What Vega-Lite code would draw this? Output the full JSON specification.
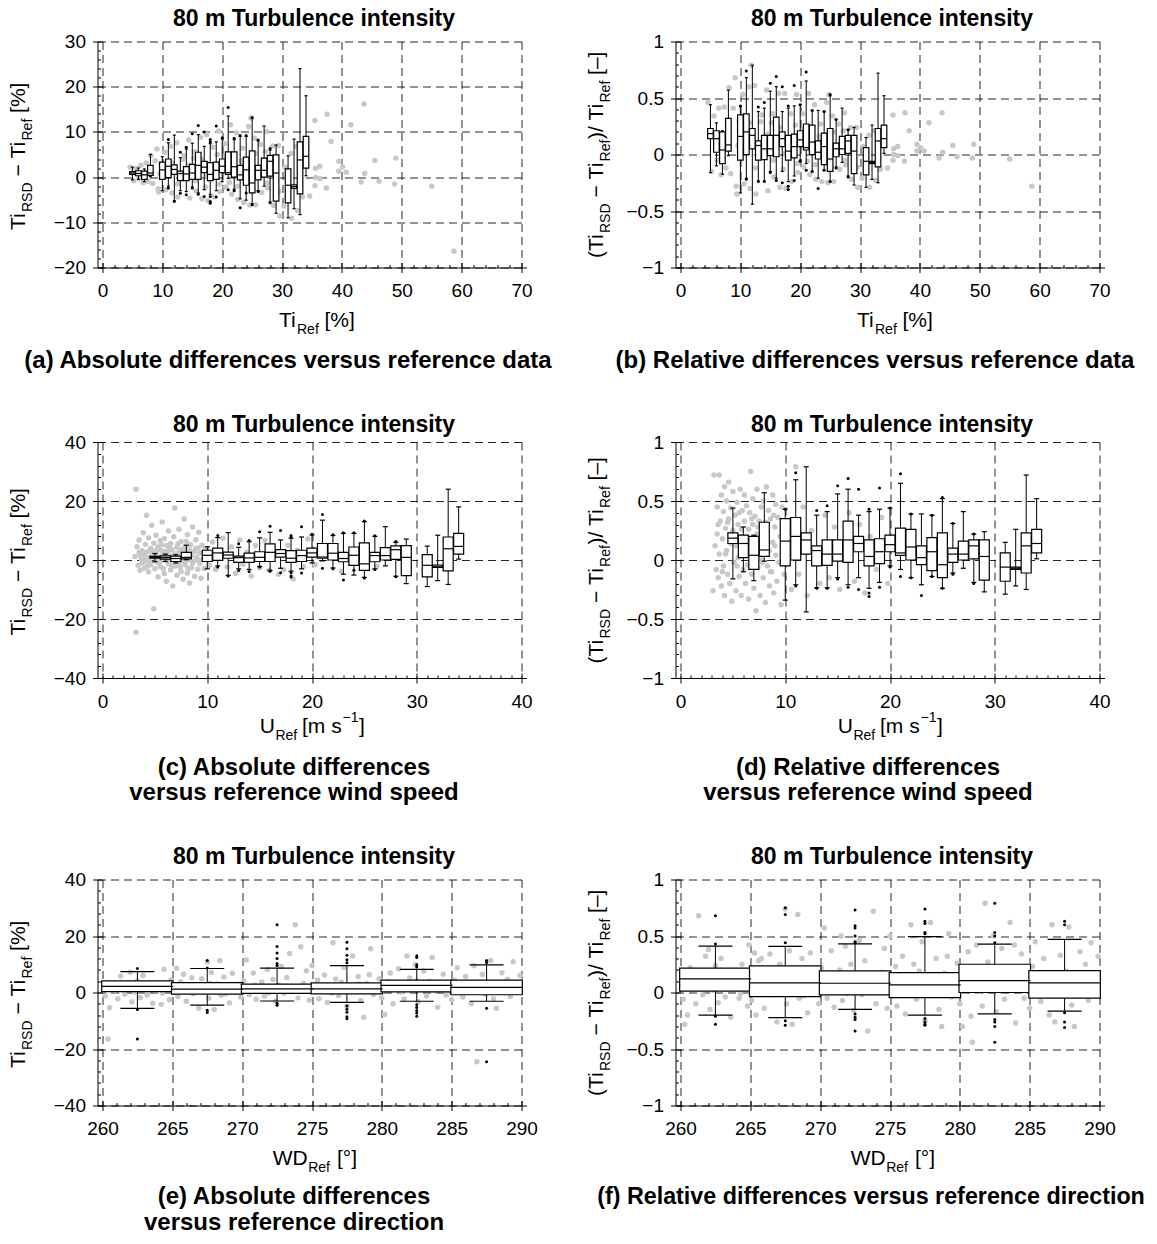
{
  "$schema": "https://vega.github.io/schema/vega-lite/v6.json",
  "background": "white",
  "padding": {"left": 7.5, "top": 7.5, "right": 2, "bottom": 4},
  "columns": 2,
  "align": "each",
  "spacing": {"row": 40.5, "column": 32},
  "datasets": {
    "boxU": [
      {"x":5,"q1":0.6,"q3":1.2,"md":0.9,"lo":-0.6,"hi":2.2},
      {"x":6,"q1":0.3,"q3":1.4,"md":0.8,"lo":-0.5,"hi":2.0},
      {"x":7,"q1":-0.5,"q3":1.3,"md":0.5,"lo":-1.0,"hi":1.8},
      {"x":8,"q1":0.4,"q3":2.6,"md":0.9,"lo":0.1,"hi":5.0},
      {"x":10,"q1":-0.5,"q3":3.3,"md":1.6,"lo":-3.0,"hi":4.5},
      {"x":11,"q1":-0.1,"q3":4.0,"md":2.4,"lo":-2.0,"hi":7.6},
      {"x":12,"q1":0.6,"q3":2.7,"md":1.7,"lo":-5.2,"hi":9.3},
      {"x":13,"q1":-0.8,"q3":1.3,"md":0.8,"lo":-3.0,"hi":4.3},
      {"x":14,"q1":-0.8,"q3":2.3,"md":0.7,"lo":-3.2,"hi":6.2},
      {"x":15,"q1":-0.5,"q3":2.8,"md":0.9,"lo":-2.2,"hi":7.5},
      {"x":16,"q1":-0.5,"q3":5.5,"md":2.6,"lo":-3.5,"hi":9.4},
      {"x":17,"q1":1.0,"q3":3.5,"md":2.2,"lo":-2.8,"hi":6.8},
      {"x":18,"q1":-0.8,"q3":3.2,"md":0.6,"lo":-3.8,"hi":7.4},
      {"x":19,"q1":-0.5,"q3":3.3,"md":1.5,"lo":-3.0,"hi":7.8},
      {"x":20,"q1":1.0,"q3":4.0,"md":2.4,"lo":-1.0,"hi":8.5},
      {"x":21,"q1":0.6,"q3":5.6,"md":1.0,"lo":-0.3,"hi":13.5},
      {"x":22,"q1":0.0,"q3":5.6,"md":2.3,"lo":-2.7,"hi":8.3},
      {"x":23,"q1":-0.6,"q3":2.6,"md":0.5,"lo":-4.8,"hi":9.0},
      {"x":24,"q1":-1.8,"q3":4.4,"md":1.6,"lo":-5.1,"hi":9.0},
      {"x":25,"q1":-3.5,"q3":5.8,"md":-1.3,"lo":-5.9,"hi":13.0},
      {"x":26,"q1":-0.6,"q3":2.6,"md":1.5,"lo":-3.0,"hi":8.0},
      {"x":27,"q1":0.0,"q3":4.2,"md":1.5,"lo":-2.0,"hi":11.3},
      {"x":28,"q1":0.2,"q3":4.8,"md":3.5,"lo":-5.5,"hi":6.0},
      {"x":29,"q1":-5.3,"q3":4.9,"md":0.9,"lo":-8.0,"hi":7.1},
      {"x":31,"q1":-5.7,"q3":1.8,"md":-1.8,"lo":-9.0,"hi":4.7},
      {"x":32,"q1":-2.5,"q3":-1.7,"md":-2.1,"lo":-7.0,"hi":8.4},
      {"x":33,"q1":-3.7,"q3":7.8,"md":3.8,"lo":-8.3,"hi":24.0},
      {"x":34,"q1":2.0,"q3":9.0,"md":4.6,"lo":0.3,"hi":18.0}
    ],
    "boxR": [
      {"x":5,"q1":0.14,"q3":0.23,"md":0.185,"lo":-0.16,"hi":0.44},
      {"x":6,"q1":0.02,"q3":0.21,"md":0.14,"lo":-0.10,"hi":0.28},
      {"x":7,"q1":-0.08,"q3":0.20,"md":0.04,"lo":-0.175,"hi":0.21},
      {"x":8,"q1":0.03,"q3":0.32,"md":0.085,"lo":-0.01,"hi":0.57},
      {"x":10,"q1":-0.05,"q3":0.35,"md":0.16,"lo":-0.34,"hi":0.43},
      {"x":11,"q1":0.0,"q3":0.36,"md":0.2,"lo":-0.21,"hi":0.68},
      {"x":12,"q1":0.05,"q3":0.23,"md":0.17,"lo":-0.44,"hi":0.79},
      {"x":13,"q1":-0.05,"q3":0.12,"md":0.08,"lo":-0.235,"hi":0.38},
      {"x":14,"q1":-0.045,"q3":0.17,"md":0.05,"lo":-0.235,"hi":0.41},
      {"x":15,"q1":-0.01,"q3":0.17,"md":0.05,"lo":-0.15,"hi":0.56},
      {"x":16,"q1":-0.02,"q3":0.33,"md":0.17,"lo":-0.21,"hi":0.6},
      {"x":17,"q1":0.07,"q3":0.2,"md":0.14,"lo":-0.15,"hi":0.38},
      {"x":18,"q1":-0.05,"q3":0.17,"md":0.03,"lo":-0.24,"hi":0.41},
      {"x":19,"q1":-0.03,"q3":0.18,"md":0.07,"lo":-0.19,"hi":0.43},
      {"x":20,"q1":0.07,"q3":0.21,"md":0.13,"lo":-0.05,"hi":0.44},
      {"x":21,"q1":0.04,"q3":0.27,"md":0.06,"lo":-0.08,"hi":0.65},
      {"x":22,"q1":0.0,"q3":0.26,"md":0.11,"lo":-0.15,"hi":0.39},
      {"x":23,"q1":-0.04,"q3":0.12,"md":0.02,"lo":-0.21,"hi":0.39},
      {"x":24,"q1":-0.09,"q3":0.19,"md":0.07,"lo":-0.14,"hi":0.38},
      {"x":25,"q1":-0.15,"q3":0.23,"md":-0.04,"lo":-0.24,"hi":0.52},
      {"x":26,"q1":-0.02,"q3":0.1,"md":0.05,"lo":-0.11,"hi":0.31},
      {"x":27,"q1":0.0,"q3":0.16,"md":0.05,"lo":-0.07,"hi":0.41},
      {"x":28,"q1":0.01,"q3":0.17,"md":0.12,"lo":-0.19,"hi":0.22},
      {"x":29,"q1":-0.17,"q3":0.17,"md":0.03,"lo":-0.27,"hi":0.24},
      {"x":31,"q1":-0.18,"q3":0.06,"md":-0.06,"lo":-0.29,"hi":0.15},
      {"x":32,"q1":-0.08,"q3":-0.06,"md":-0.07,"lo":-0.22,"hi":0.26},
      {"x":33,"q1":-0.11,"q3":0.23,"md":0.12,"lo":-0.25,"hi":0.72},
      {"x":34,"q1":0.06,"q3":0.26,"md":0.14,"lo":0.01,"hi":0.52}
    ],
    "boxWa": [
      {"x":262.5,"q1":0.3,"q3":4.1,"md":2.2,"lo":-5.6,"hi":7.4},
      {"x":267.5,"q1":-0.6,"q3":3.5,"md":1.2,"lo":-4.5,"hi":8.5},
      {"x":272.5,"q1":-0.3,"q3":3.0,"md":1.3,"lo":-3.0,"hi":8.6},
      {"x":277.5,"q1":-0.5,"q3":3.4,"md":1.3,"lo":-3.5,"hi":9.5},
      {"x":282.5,"q1":0.2,"q3":4.4,"md":2.5,"lo":-3.1,"hi":8.2},
      {"x":287.5,"q1":-0.8,"q3":4.4,"md":1.8,"lo":-3.1,"hi":9.8}
    ],
    "boxWr": [
      {"x":262.5,"q1":0.013,"q3":0.215,"md":0.12,"lo":-0.2,"hi":0.41},
      {"x":267.5,"q1":-0.036,"q3":0.236,"md":0.085,"lo":-0.223,"hi":0.408},
      {"x":272.5,"q1":-0.021,"q3":0.191,"md":0.082,"lo":-0.15,"hi":0.43},
      {"x":277.5,"q1":-0.045,"q3":0.176,"md":0.067,"lo":-0.2,"hi":0.494},
      {"x":282.5,"q1":0.0,"q3":0.25,"md":0.105,"lo":-0.19,"hi":0.428},
      {"x":287.5,"q1":-0.05,"q3":0.194,"md":0.085,"lo":-0.165,"hi":0.47}
    ],
    "outU": [
      {"x":11,"y":8.3},{"x":11,"y":-2.4},{"x":12,"y":-5.4},{"x":13,"y":5.5},{"x":13,"y":-3.6},{"x":14,"y":6.6},{"x":14,"y":-3.9},{"x":15,"y":9.6},{"x":15,"y":-2.4},{"x":16,"y":11.4},{"x":16,"y":-3.8},{"x":17,"y":10.0},{"x":17,"y":-4.3},{"x":18,"y":7.8},{"x":18,"y":8.3},{"x":18,"y":-4.3},{"x":18,"y":-5.4},{"x":18,"y":-5.8},{"x":19,"y":11.3},{"x":19,"y":-4.4},{"x":20,"y":8.7},{"x":21,"y":15.4},{"x":21,"y":-2.8},{"x":22,"y":8.6},{"x":22,"y":-3.0},{"x":23,"y":9.2},{"x":23,"y":-6.8},{"x":24,"y":9.2},{"x":24,"y":-3.5},{"x":25,"y":13.2},{"x":25,"y":-6.1},{"x":26,"y":8.2},{"x":26,"y":-3.2},{"x":28,"y":6.3},{"x":28,"y":-5.7}
    ],
    "outR": [
      {"x":10,"y":0.43},{"x":11,"y":0.74},{"x":11,"y":-0.22},{"x":13,"y":0.42},{"x":13,"y":-0.24},{"x":14,"y":0.46},{"x":14,"y":-0.24},{"x":15,"y":0.63},{"x":15,"y":-0.16},{"x":16,"y":0.69},{"x":16,"y":-0.23},{"x":17,"y":0.6},{"x":17,"y":-0.25},{"x":18,"y":0.43},{"x":18,"y":-0.28},{"x":18,"y":-0.31},{"x":19,"y":0.61},{"x":19,"y":-0.23},{"x":20,"y":0.44},{"x":20,"y":-0.06},{"x":21,"y":0.73},{"x":21,"y":-0.14},{"x":22,"y":0.39},{"x":22,"y":-0.15},{"x":23,"y":-0.3},{"x":24,"y":0.38},{"x":24,"y":-0.14},{"x":25,"y":0.53},{"x":25,"y":-0.24},{"x":26,"y":0.31},{"x":26,"y":-0.12},{"x":28,"y":0.22},{"x":28,"y":-0.2}
    ],
    "outWa": [
      {"x":262.5,"y":8.5},{"x":262.5,"y":-6.0},{"x":262.5,"y":-16.5},
      {"x":267.5,"y":8.7},{"x":267.5,"y":11.3},{"x":267.5,"y":-6.3},{"x":267.5,"y":-7.1},
      {"x":272.5,"y":9.6},{"x":272.5,"y":10.3},{"x":272.5,"y":12.0},{"x":272.5,"y":14.0},{"x":272.5,"y":16.3},{"x":272.5,"y":24.0},{"x":272.5,"y":-3.8},{"x":272.5,"y":-4.5},
      {"x":277.5,"y":10.5},{"x":277.5,"y":11.6},{"x":277.5,"y":13.2},{"x":277.5,"y":15.5},{"x":277.5,"y":17.8},{"x":277.5,"y":-4.8},{"x":277.5,"y":-5.9},{"x":277.5,"y":-7.0},{"x":277.5,"y":-8.6},{"x":277.5,"y":-9.3},
      {"x":282.5,"y":9.0},{"x":282.5,"y":9.8},{"x":282.5,"y":12.4},{"x":282.5,"y":13.0},{"x":282.5,"y":-4.3},{"x":282.5,"y":-5.3},{"x":282.5,"y":-6.4},{"x":282.5,"y":-7.3},{"x":282.5,"y":-8.4},
      {"x":287.5,"y":10.6},{"x":287.5,"y":11.3},{"x":287.5,"y":-5.6},{"x":287.5,"y":-24.5}
    ],
    "outWr": [
      {"x":262.5,"y":0.68},{"x":262.5,"y":0.43},{"x":262.5,"y":-0.21},{"x":262.5,"y":-0.28},
      {"x":267.5,"y":0.75},{"x":267.5,"y":0.69},{"x":267.5,"y":0.44},{"x":267.5,"y":-0.25},{"x":267.5,"y":-0.29},
      {"x":272.5,"y":0.73},{"x":272.5,"y":0.59},{"x":272.5,"y":0.57},{"x":272.5,"y":0.5},{"x":272.5,"y":0.45},{"x":272.5,"y":0.44},{"x":272.5,"y":-0.19},{"x":272.5,"y":-0.22},{"x":272.5,"y":-0.24},{"x":272.5,"y":-0.34},
      {"x":277.5,"y":0.74},{"x":277.5,"y":0.63},{"x":277.5,"y":0.61},{"x":277.5,"y":0.53},{"x":277.5,"y":0.52},{"x":277.5,"y":-0.23},{"x":277.5,"y":-0.26},{"x":277.5,"y":-0.28},{"x":277.5,"y":-0.29},
      {"x":282.5,"y":0.79},{"x":282.5,"y":0.53},{"x":282.5,"y":0.5},{"x":282.5,"y":0.44},{"x":282.5,"y":-0.24},{"x":282.5,"y":-0.26},{"x":282.5,"y":-0.3},{"x":282.5,"y":-0.44},
      {"x":287.5,"y":0.63},{"x":287.5,"y":0.6},{"x":287.5,"y":-0.18},{"x":287.5,"y":-0.26},{"x":287.5,"y":-0.31}
    ],
    "ptA": [
      {"x":4.6,"y":2.2},{"x":5.2,"y":-0.8},{"x":5.6,"y":1.9},{"x":6.1,"y":-0.3},{"x":6.4,"y":2.6},{"x":6.8,"y":-1.2},{"x":7.3,"y":3.1},{"x":7.6,"y":-0.9},{"x":8.1,"y":4.8},{"x":8.4,"y":-1.4},{"x":8.8,"y":3.6},{"x":9.1,"y":6.2},{"x":9.3,"y":-2.6},{"x":9.6,"y":0.8},{"x":9.4,"y":-3.3},{"x":9.8,"y":2.9},
      {"x":10.4,"y":5.5},{"x":10.6,"y":-2.8},{"x":11.4,"y":6.8},{"x":11.6,"y":-3.5},{"x":12.4,"y":7.6},{"x":12.6,"y":-4.4},{"x":13.4,"y":3.9},{"x":13.6,"y":4.8},{"x":14.4,"y":8.2},{"x":14.6,"y":-4.6},{"x":15.4,"y":5.6},{"x":15.6,"y":-3.1},{"x":16.4,"y":8.8},{"x":16.6,"y":-4.8},{"x":17.4,"y":9.4},{"x":17.6,"y":-5.2},{"x":18.4,"y":6.6},{"x":18.6,"y":-4.4},{"x":19.4,"y":10.2},{"x":19.6,"y":-3.2},{"x":20.4,"y":7.4},{"x":20.6,"y":-2.2},{"x":21.4,"y":11.6},{"x":21.6,"y":-3.8},{"x":22.4,"y":9.8},{"x":22.6,"y":-4.9},{"x":23.4,"y":6.4},{"x":23.6,"y":-5.6},{"x":24.4,"y":11.2},{"x":24.8,"y":13.1},{"x":24.6,"y":-6.2},{"x":25.4,"y":8.6},{"x":25.6,"y":-6.1},{"x":26.4,"y":7.2},{"x":26.6,"y":-3.4},{"x":27.4,"y":10.1},{"x":27.6,"y":-2.4},{"x":28.4,"y":6.9},{"x":28.6,"y":-6.3},{"x":29.4,"y":7.0},{"x":29.6,"y":-8.6},{"x":30.3,"y":-6.4},{"x":30.5,"y":2.2},{"x":31.5,"y":5.2},{"x":31.6,"y":-9.1},{"x":32.4,"y":6.8},{"x":32.6,"y":-7.4},{"x":33.4,"y":-4.4},{"x":33.5,"y":6.2},
      {"x":10.5,"y":1.0},{"x":11.5,"y":3.2},{"x":12.5,"y":-1.5},{"x":13.5,"y":0.4},{"x":14.5,"y":2.6},{"x":15.5,"y":-0.8},{"x":16.5,"y":4.0},{"x":17.5,"y":0.2},{"x":18.5,"y":2.2},{"x":19.5,"y":-1.6},{"x":20.5,"y":4.6},{"x":21.5,"y":1.8},{"x":22.5,"y":-2.0},{"x":23.5,"y":2.8},{"x":24.5,"y":-0.4},{"x":25.5,"y":5.2},{"x":26.5,"y":1.0},{"x":27.5,"y":-1.3},{"x":28.5,"y":3.1},{"x":29.5,"y":-3.2},
      {"x":15.2,"y":4.2},{"x":17.2,"y":-2.2},{"x":19.2,"y":5.0},{"x":21.2,"y":-1.2},{"x":23.2,"y":3.6},{"x":25.2,"y":-3.0},{"x":27.2,"y":5.6},
      {"x":34.6,"y":-4.2},{"x":35.5,"y":12.5},{"x":35.6,"y":1.9},{"x":35.6,"y":-0.1},{"x":35.5,"y":-1.9},{"x":36.3,"y":2.4},{"x":36.3,"y":-0.3},{"x":37.4,"y":-2.4},{"x":37.5,"y":13.9},{"x":38.2,"y":7.9},{"x":39.5,"y":3.5},{"x":39.5,"y":1.3},{"x":40.1,"y":2.3},{"x":40.7,"y":1.1},{"x":41.5,"y":11.6},{"x":43.2,"y":-1.1},{"x":43.7,"y":16.2},{"x":43.8,"y":0.8},{"x":45.5,"y":3.7},{"x":46.2,"y":-0.9},{"x":48.8,"y":-1.5},{"x":49.0,"y":4.2},{"x":55.0,"y":-2.0},{"x":58.7,"y":-16.4}
    ],
    "ptB": [
      {"x":4.6,"y":0.46},{"x":5.2,"y":-0.15},{"x":5.6,"y":0.34},{"x":6.1,"y":-0.05},{"x":6.4,"y":0.41},{"x":6.8,"y":-0.18},{"x":7.3,"y":0.42},{"x":7.6,"y":-0.12},{"x":8.1,"y":0.59},{"x":8.4,"y":-0.17},{"x":8.8,"y":0.41},{"x":9.1,"y":0.68},{"x":9.3,"y":-0.28},{"x":9.6,"y":0.08},{"x":9.4,"y":-0.35},{"x":9.8,"y":0.3},
      {"x":10.4,"y":0.53},{"x":10.6,"y":-0.26},{"x":11.4,"y":0.6},{"x":11.6,"y":-0.3},{"x":11.8,"y":0.79},{"x":12.4,"y":0.61},{"x":12.6,"y":-0.35},{"x":13.4,"y":0.29},{"x":13.6,"y":0.35},{"x":14.4,"y":0.57},{"x":14.6,"y":-0.32},{"x":15.4,"y":0.36},{"x":15.6,"y":-0.2},{"x":16.4,"y":0.54},{"x":16.6,"y":-0.29},{"x":17.4,"y":0.54},{"x":17.6,"y":-0.3},{"x":18.4,"y":0.36},{"x":18.6,"y":-0.24},{"x":19.4,"y":0.53},{"x":19.6,"y":-0.16},{"x":20.4,"y":0.36},{"x":20.6,"y":-0.11},{"x":21.4,"y":0.54},{"x":21.6,"y":-0.18},{"x":22.4,"y":0.44},{"x":22.6,"y":-0.22},{"x":23.4,"y":0.27},{"x":23.6,"y":-0.24},{"x":24.4,"y":0.46},{"x":24.8,"y":0.53},{"x":24.6,"y":-0.25},{"x":25.4,"y":0.34},{"x":25.6,"y":-0.24},{"x":26.4,"y":0.27},{"x":26.6,"y":-0.13},{"x":27.4,"y":0.37},{"x":27.6,"y":-0.09},{"x":28.4,"y":0.24},{"x":28.6,"y":-0.22},{"x":29.4,"y":0.24},{"x":29.6,"y":-0.29},{"x":30.3,"y":-0.21},{"x":30.5,"y":0.07},{"x":31.5,"y":0.17},{"x":31.6,"y":-0.29},{"x":32.4,"y":0.21},{"x":32.6,"y":-0.23},{"x":33.4,"y":-0.13},{"x":33.5,"y":0.19},
      {"x":10.5,"y":0.1},{"x":11.5,"y":0.28},{"x":12.5,"y":-0.12},{"x":13.5,"y":0.03},{"x":14.5,"y":0.18},{"x":15.5,"y":-0.05},{"x":16.5,"y":0.24},{"x":17.5,"y":0.01},{"x":18.5,"y":0.12},{"x":19.5,"y":-0.08},{"x":20.5,"y":0.22},{"x":21.5,"y":0.08},{"x":22.5,"y":-0.09},{"x":23.5,"y":0.12},{"x":24.5,"y":-0.02},{"x":25.5,"y":0.2},{"x":26.5,"y":0.04},{"x":27.5,"y":-0.05},{"x":28.5,"y":0.11},{"x":29.5,"y":-0.11},
      {"x":15.2,"y":0.28},{"x":17.2,"y":-0.13},{"x":19.2,"y":0.26},{"x":21.2,"y":-0.06},{"x":23.2,"y":0.16},{"x":25.2,"y":-0.12},{"x":27.2,"y":0.21},
      {"x":34.6,"y":-0.12},{"x":35.5,"y":0.35},{"x":35.6,"y":0.05},{"x":35.6,"y":0.0},{"x":35.5,"y":-0.05},{"x":36.3,"y":0.07},{"x":36.3,"y":-0.01},{"x":37.4,"y":-0.06},{"x":37.5,"y":0.37},{"x":38.2,"y":0.21},{"x":39.5,"y":0.09},{"x":39.5,"y":0.03},{"x":40.1,"y":0.06},{"x":40.7,"y":0.03},{"x":41.5,"y":0.28},{"x":43.2,"y":-0.03},{"x":43.7,"y":0.37},{"x":43.8,"y":0.02},{"x":45.5,"y":0.08},{"x":46.2,"y":-0.02},{"x":48.8,"y":-0.03},{"x":49.0,"y":0.09},{"x":55.0,"y":-0.04},{"x":58.7,"y":-0.28}
    ],
    "ptC": [
      {"x":3.1,"y":1.2},{"x":3.2,"y":24.0},{"x":3.2,"y":-24.5},{"x":3.3,"y":4.5},{"x":3.4,"y":-1.8},{"x":3.5,"y":2.6},{"x":3.5,"y":6.8},{"x":3.6,"y":-3.5},{"x":3.7,"y":0.4},{"x":3.8,"y":3.1},{"x":3.8,"y":-0.9},{"x":3.9,"y":9.2},{"x":4.0,"y":1.9},{"x":4.0,"y":-2.7},{"x":4.1,"y":5.3},{"x":4.2,"y":15.2},{"x":4.2,"y":-0.3},{"x":4.3,"y":2.8},{"x":4.4,"y":7.5},{"x":4.4,"y":-4.1},{"x":4.5,"y":0.9},{"x":4.6,"y":3.9},{"x":4.6,"y":-1.5},{"x":4.7,"y":11.8},{"x":4.8,"y":1.6},{"x":4.9,"y":-16.5},{"x":4.9,"y":5.7},{"x":5.0,"y":-3.0},{"x":5.1,"y":2.3},{"x":5.1,"y":8.4},{"x":5.2,"y":-0.6},{"x":5.3,"y":4.4},{"x":5.3,"y":-5.8},{"x":5.4,"y":1.0},{"x":5.5,"y":6.6},{"x":5.5,"y":-2.2},{"x":5.6,"y":3.2},{"x":5.7,"y":12.9},{"x":5.7,"y":-0.1},{"x":5.8,"y":2.0},{"x":5.9,"y":-4.6},{"x":5.9,"y":7.2},{"x":6.0,"y":0.5},{"x":6.1,"y":4.9},{"x":6.1,"y":-7.2},{"x":6.2,"y":2.7},{"x":6.3,"y":-1.3},{"x":6.3,"y":9.8},{"x":6.4,"y":1.4},{"x":6.5,"y":5.6},{"x":6.5,"y":-3.4},{"x":6.6,"y":3.5},{"x":6.7,"y":-8.8},{"x":6.7,"y":0.2},{"x":6.8,"y":7.9},{"x":6.9,"y":-2.0},{"x":6.9,"y":17.6},{"x":7.0,"y":2.2},{"x":7.1,"y":4.2},{"x":7.1,"y":-5.2},{"x":7.2,"y":1.1},{"x":7.3,"y":10.4},{"x":7.3,"y":-0.8},{"x":7.4,"y":3.0},{"x":7.5,"y":-3.9},{"x":7.5,"y":6.2},{"x":7.6,"y":0.6},{"x":7.7,"y":-6.5},{"x":7.7,"y":2.5},{"x":7.8,"y":13.9},{"x":7.9,"y":4.6},{"x":7.9,"y":-1.6},{"x":8.0,"y":1.8},{"x":8.1,"y":-4.4},{"x":8.1,"y":8.6},{"x":8.2,"y":0.1},{"x":8.3,"y":3.4},{"x":8.3,"y":-7.8},{"x":8.4,"y":5.2},{"x":8.5,"y":-2.6},{"x":8.5,"y":1.5},{"x":8.6,"y":11.2},{"x":8.7,"y":-0.4},{"x":8.8,"y":2.9},{"x":8.8,"y":-5.5},{"x":8.9,"y":6.9},{"x":9.0,"y":0.9},{"x":9.1,"y":-3.1},{"x":9.1,"y":4.1},{"x":9.2,"y":9.4},{"x":9.3,"y":-1.2},{"x":9.3,"y":2.4},{"x":9.4,"y":-6.2},{"x":9.5,"y":5.0},{"x":9.6,"y":0.3},{"x":9.7,"y":-2.9},{"x":9.8,"y":3.6},
      {"x":3.6,"y":1.8},{"x":4.1,"y":0.2},{"x":4.3,"y":-2.1},{"x":4.7,"y":3.1},{"x":5.0,"y":0.7},{"x":5.2,"y":3.6},{"x":5.4,"y":-1.1},{"x":5.6,"y":5.2},{"x":5.8,"y":-2.9},{"x":6.0,"y":2.9},{"x":6.2,"y":-0.4},{"x":6.4,"y":4.1},{"x":6.6,"y":-1.8},{"x":6.8,"y":1.7},{"x":7.0,"y":-0.3},{"x":7.2,"y":5.4},{"x":7.4,"y":-2.4},{"x":7.6,"y":3.7},{"x":7.8,"y":-0.6},{"x":8.0,"y":6.3},{"x":8.2,"y":-3.0},{"x":8.4,"y":2.1},{"x":8.6,"y":-1.0},{"x":8.9,"y":3.9},{"x":9.2,"y":-0.2},{"x":4.5,"y":-0.7},{"x":3.9,"y":2.0},{"x":5.9,"y":1.3},{"x":6.9,"y":0.5},{"x":7.9,"y":2.8},
      {"x":10.2,"y":-1.8},{"x":10.5,"y":6.1},{"x":10.8,"y":-3.2},{"x":11.2,"y":3.0},{"x":11.5,"y":7.4},{"x":11.9,"y":-2.4},{"x":12.3,"y":4.4},{"x":12.7,"y":-4.6},{"x":13.1,"y":6.8},{"x":13.4,"y":-1.4},{"x":13.8,"y":2.6},{"x":14.2,"y":-5.4},{"x":14.6,"y":4.9},{"x":15.0,"y":-2.6},{"x":15.5,"y":6.6},{"x":15.9,"y":-3.5},{"x":16.3,"y":2.1},{"x":16.8,"y":-4.8},{"x":17.3,"y":-3.3},{"x":17.7,"y":5.0},{"x":18.2,"y":-6.4},{"x":18.6,"y":3.3},{"x":19.2,"y":-2.3},{"x":19.6,"y":7.1},{"x":20.3,"y":-1.6},{"x":21.5,"y":4.2},{"x":22.8,"y":-3.8},{"x":24.1,"y":2.7},{"x":26.2,"y":-2.1}
    ],
    "ptD": [
      {"x":3.1,"y":-0.26},{"x":3.2,"y":0.72},{"x":3.3,"y":0.12},{"x":3.4,"y":-0.08},{"x":3.5,"y":0.45},{"x":3.5,"y":0.22},{"x":3.6,"y":-0.15},{"x":3.7,"y":0.72},{"x":3.7,"y":0.05},{"x":3.8,"y":0.33},{"x":3.9,"y":-0.22},{"x":3.9,"y":0.55},{"x":4.0,"y":0.18},{"x":4.1,"y":-0.05},{"x":4.1,"y":0.41},{"x":4.2,"y":0.62},{"x":4.2,"y":-0.3},{"x":4.3,"y":0.27},{"x":4.4,"y":0.08},{"x":4.4,"y":0.5},{"x":4.5,"y":-0.12},{"x":4.6,"y":0.35},{"x":4.6,"y":0.66},{"x":4.7,"y":-0.2},{"x":4.8,"y":0.14},{"x":4.8,"y":0.44},{"x":4.9,"y":-0.35},{"x":5.0,"y":0.25},{"x":5.0,"y":0.58},{"x":5.1,"y":-0.02},{"x":5.2,"y":0.38},{"x":5.3,"y":-0.26},{"x":5.3,"y":0.12},{"x":5.4,"y":0.49},{"x":5.5,"y":0.02},{"x":5.5,"y":0.3},{"x":5.6,"y":-0.14},{"x":5.7,"y":0.6},{"x":5.7,"y":0.2},{"x":5.8,"y":-0.3},{"x":5.9,"y":0.42},{"x":5.9,"y":0.07},{"x":6.0,"y":-0.08},{"x":6.1,"y":0.33},{"x":6.1,"y":0.55},{"x":6.2,"y":-0.2},{"x":6.3,"y":0.16},{"x":6.3,"y":0.46},{"x":6.4,"y":-0.04},{"x":6.5,"y":0.26},{"x":6.5,"y":-0.33},{"x":6.6,"y":0.4},{"x":6.7,"y":0.1},{"x":6.7,"y":0.75},{"x":6.8,"y":-0.12},{"x":6.9,"y":0.3},{"x":6.9,"y":0.52},{"x":7.0,"y":-0.24},{"x":7.1,"y":0.05},{"x":7.1,"y":0.37},{"x":7.2,"y":-0.43},{"x":7.3,"y":0.22},{"x":7.3,"y":0.6},{"x":7.4,"y":-0.06},{"x":7.5,"y":0.33},{"x":7.5,"y":0.12},{"x":7.6,"y":-0.3},{"x":7.7,"y":0.45},{"x":7.7,"y":0.0},{"x":7.8,"y":0.25},{"x":7.9,"y":-0.15},{"x":7.9,"y":0.5},{"x":8.0,"y":0.1},{"x":8.1,"y":-0.36},{"x":8.1,"y":0.32},{"x":8.2,"y":0.62},{"x":8.3,"y":-0.05},{"x":8.3,"y":0.2},{"x":8.4,"y":0.42},{"x":8.5,"y":-0.22},{"x":8.5,"y":0.08},{"x":8.6,"y":0.35},{"x":8.7,"y":-0.1},{"x":8.8,"y":0.55},{"x":8.8,"y":0.15},{"x":8.9,"y":-0.28},{"x":9.0,"y":0.28},{"x":9.1,"y":0.04},{"x":9.1,"y":0.47},{"x":9.2,"y":-0.18},{"x":9.3,"y":0.36},{"x":9.4,"y":-0.02},{"x":9.5,"y":0.2},{"x":9.6,"y":-0.38},{"x":9.7,"y":0.45},{"x":9.8,"y":0.1},{"x":9.9,"y":-0.12},
      {"x":3.6,"y":0.3},{"x":4.0,"y":-0.1},{"x":4.3,"y":0.05},{"x":4.7,"y":0.22},{"x":5.1,"y":0.15},{"x":5.4,"y":-0.05},{"x":5.8,"y":0.26},{"x":6.2,"y":0.06},{"x":6.6,"y":0.18},{"x":7.0,"y":0.14},{"x":7.4,"y":0.28},{"x":7.8,"y":-0.02},{"x":8.2,"y":0.18},{"x":8.6,"y":-0.1},{"x":9.0,"y":0.12},{"x":4.5,"y":0.32},{"x":5.6,"y":0.4},{"x":6.8,"y":0.35},{"x":7.9,"y":0.24},{"x":8.9,"y":0.38},
      {"x":10.3,"y":0.3},{"x":10.6,"y":-0.25},{"x":11.0,"y":0.79},{"x":11.3,"y":-0.12},{"x":11.7,"y":0.45},{"x":12.1,"y":-0.3},{"x":12.5,"y":0.25},{"x":12.9,"y":0.05},{"x":13.3,"y":-0.2},{"x":13.8,"y":0.38},{"x":14.2,"y":-0.15},{"x":14.7,"y":0.28},{"x":15.2,"y":-0.25},{"x":15.6,"y":0.12},{"x":16.1,"y":0.4},{"x":16.6,"y":-0.18},{"x":17.1,"y":0.3},{"x":17.6,"y":-0.28},{"x":18.1,"y":0.2},{"x":18.7,"y":-0.08},{"x":19.2,"y":0.36},{"x":19.8,"y":-0.2}
    ],
    "ptE": [
      {"x":260.2,"y":-1.2},{"x":260.4,"y":-16.5},{"x":260.5,"y":-5.4},{"x":260.7,"y":3.1},{"x":260.9,"y":0.6},{"x":261.1,"y":-2.2},{"x":261.3,"y":5.8},{"x":261.5,"y":1.4},{"x":261.6,"y":-0.6},{"x":261.8,"y":2.5},{"x":262.0,"y":7.2},{"x":262.1,"y":-3.4},{"x":262.3,"y":0.2},{"x":262.5,"y":4.1},{"x":262.7,"y":-1.8},{"x":262.9,"y":6.0},{"x":263.1,"y":1.9},{"x":263.2,"y":-0.9},{"x":263.4,"y":3.4},{"x":263.6,"y":-3.8},{"x":263.8,"y":0.8},{"x":264.0,"y":2.7},{"x":264.2,"y":-4.2},{"x":264.4,"y":8.2},{"x":264.6,"y":1.1},{"x":264.8,"y":-2.6},{"x":264.9,"y":4.5},{"x":265.1,"y":0.3},{"x":265.3,"y":8.6},{"x":265.4,"y":-1.4},{"x":265.6,"y":3.8},{"x":265.8,"y":6.5},{"x":266.0,"y":-3.1},{"x":266.2,"y":1.7},{"x":266.4,"y":5.2},{"x":266.5,"y":-0.4},{"x":266.7,"y":2.2},{"x":266.9,"y":-5.6},{"x":267.1,"y":4.9},{"x":267.3,"y":0.9},{"x":267.5,"y":10.8},{"x":267.6,"y":-2.0},{"x":267.8,"y":7.1},{"x":268.0,"y":-6.0},{"x":268.2,"y":3.0},{"x":268.4,"y":11.3},{"x":268.5,"y":-1.0},{"x":268.7,"y":5.5},{"x":268.9,"y":1.6},{"x":269.1,"y":-3.7},{"x":269.3,"y":6.8},{"x":269.5,"y":0.0},{"x":269.7,"y":2.9},{"x":269.9,"y":-1.6},{"x":270.1,"y":4.2},{"x":270.3,"y":11.5},{"x":270.5,"y":-0.8},{"x":270.7,"y":2.0},{"x":270.8,"y":6.9},{"x":271.0,"y":-2.4},{"x":271.2,"y":1.2},{"x":271.4,"y":3.7},{"x":271.6,"y":-1.2},{"x":271.8,"y":8.1},{"x":272.0,"y":0.5},{"x":272.2,"y":4.6},{"x":272.4,"y":-3.0},{"x":272.6,"y":2.6},{"x":272.8,"y":9.2},{"x":273.0,"y":-0.3},{"x":273.2,"y":5.3},{"x":273.4,"y":13.8},{"x":273.6,"y":1.3},{"x":273.8,"y":24.0},{"x":274.0,"y":-1.9},{"x":274.2,"y":16.2},{"x":274.4,"y":3.3},{"x":274.6,"y":7.7},{"x":274.8,"y":-2.7},{"x":275.0,"y":9.6},{"x":275.2,"y":0.7},{"x":275.4,"y":4.4},{"x":275.5,"y":-2.2},{"x":275.7,"y":2.1},{"x":275.9,"y":6.2},{"x":276.1,"y":-3.5},{"x":276.3,"y":1.0},{"x":276.5,"y":17.6},{"x":276.7,"y":4.8},{"x":276.9,"y":-1.1},{"x":277.1,"y":3.6},{"x":277.3,"y":8.9},{"x":277.5,"y":-4.8},{"x":277.7,"y":2.3},{"x":277.9,"y":12.9},{"x":278.1,"y":0.4},{"x":278.3,"y":5.7},{"x":278.5,"y":-2.8},{"x":278.7,"y":-8.8},{"x":278.9,"y":3.2},{"x":279.1,"y":6.3},{"x":279.2,"y":15.5},{"x":279.4,"y":-0.7},{"x":279.6,"y":2.0},{"x":279.8,"y":4.9},{"x":280.0,"y":-1.9},{"x":280.2,"y":-7.8},{"x":280.4,"y":1.5},{"x":280.6,"y":6.9},{"x":280.8,"y":-4.0},{"x":281.0,"y":3.5},{"x":281.2,"y":8.4},{"x":281.4,"y":0.2},{"x":281.6,"y":-2.3},{"x":281.8,"y":12.9},{"x":282.0,"y":5.1},{"x":282.2,"y":1.0},{"x":282.4,"y":9.8},{"x":282.6,"y":-3.3},{"x":282.8,"y":2.8},{"x":283.0,"y":7.6},{"x":283.2,"y":-1.2},{"x":283.4,"y":4.0},{"x":283.6,"y":12.4},{"x":283.8,"y":0.6},{"x":284.0,"y":-5.2},{"x":284.2,"y":3.1},{"x":284.4,"y":6.5},{"x":284.6,"y":-0.9},{"x":284.8,"y":1.9},{"x":285.0,"y":-2.6},{"x":285.2,"y":4.3},{"x":285.4,"y":8.8},{"x":285.6,"y":0.1},{"x":285.8,"y":-1.6},{"x":286.0,"y":5.7},{"x":286.2,"y":2.4},{"x":286.4,"y":-3.9},{"x":286.6,"y":9.5},{"x":286.8,"y":-24.5},{"x":287.0,"y":1.3},{"x":287.2,"y":6.4},{"x":287.4,"y":-0.5},{"x":287.6,"y":3.6},{"x":287.8,"y":11.3},{"x":288.0,"y":-2.2},{"x":288.2,"y":-5.6},{"x":288.4,"y":2.1},{"x":288.6,"y":7.0},{"x":288.8,"y":0.4},{"x":289.0,"y":4.7},{"x":289.2,"y":-1.4},{"x":289.4,"y":10.9},{"x":289.6,"y":2.8},{"x":289.8,"y":0.2},{"x":289.9,"y":6.1},
      {"x":261.0,"y":2.0},{"x":262.2,"y":1.5},{"x":263.3,"y":2.2},{"x":264.3,"y":-0.2},{"x":265.5,"y":1.9},{"x":266.6,"y":0.5},{"x":267.7,"y":3.3},{"x":268.8,"y":-0.5},{"x":269.8,"y":1.0},{"x":270.9,"y":2.6},{"x":271.9,"y":-0.2},{"x":273.1,"y":1.8},{"x":274.1,"y":0.8},{"x":275.3,"y":2.8},{"x":276.4,"y":-0.2},{"x":277.4,"y":1.2},{"x":278.4,"y":3.0},{"x":279.5,"y":0.9},{"x":280.5,"y":3.9},{"x":281.5,"y":1.8},{"x":282.5,"y":4.2},{"x":283.5,"y":0.9},{"x":284.5,"y":2.4},{"x":285.7,"y":-0.3},{"x":286.7,"y":2.0},{"x":287.9,"y":1.1},{"x":289.1,"y":2.5}
    ],
    "ptF": [
      {"x":260.2,"y":-0.06},{"x":260.3,"y":-0.28},{"x":260.5,"y":-0.2},{"x":260.7,"y":0.22},{"x":260.9,"y":0.05},{"x":261.1,"y":-0.1},{"x":261.3,"y":0.68},{"x":261.5,"y":0.12},{"x":261.6,"y":-0.02},{"x":261.8,"y":0.32},{"x":262.0,"y":0.38},{"x":262.1,"y":-0.15},{"x":262.3,"y":0.02},{"x":262.5,"y":0.24},{"x":262.7,"y":-0.09},{"x":262.9,"y":0.3},{"x":263.1,"y":0.1},{"x":263.2,"y":-0.04},{"x":263.4,"y":0.18},{"x":263.6,"y":-0.22},{"x":263.8,"y":0.06},{"x":264.0,"y":0.14},{"x":264.2,"y":-0.05},{"x":264.4,"y":0.25},{"x":264.6,"y":0.07},{"x":264.8,"y":-0.12},{"x":264.9,"y":0.42},{"x":265.1,"y":-0.07},{"x":265.3,"y":0.35},{"x":265.4,"y":-0.2},{"x":265.6,"y":0.28},{"x":265.8,"y":0.3},{"x":266.0,"y":-0.14},{"x":266.2,"y":0.1},{"x":266.4,"y":0.34},{"x":266.5,"y":-0.02},{"x":266.7,"y":0.15},{"x":266.9,"y":-0.26},{"x":267.1,"y":0.25},{"x":267.3,"y":0.06},{"x":267.5,"y":0.74},{"x":267.6,"y":-0.1},{"x":267.8,"y":0.37},{"x":268.0,"y":-0.28},{"x":268.2,"y":0.17},{"x":268.4,"y":0.69},{"x":268.5,"y":-0.05},{"x":268.7,"y":0.3},{"x":268.9,"y":0.08},{"x":269.1,"y":-0.18},{"x":269.3,"y":0.35},{"x":269.5,"y":0.0},{"x":269.7,"y":0.16},{"x":269.9,"y":-0.1},{"x":270.1,"y":0.22},{"x":270.3,"y":0.57},{"x":270.5,"y":-0.05},{"x":270.7,"y":0.11},{"x":270.8,"y":0.37},{"x":271.0,"y":-0.13},{"x":271.2,"y":0.06},{"x":271.4,"y":0.2},{"x":271.6,"y":-0.07},{"x":271.8,"y":0.41},{"x":272.0,"y":0.03},{"x":272.2,"y":0.25},{"x":272.4,"y":-0.16},{"x":272.6,"y":0.14},{"x":272.8,"y":0.46},{"x":273.0,"y":-0.02},{"x":273.2,"y":0.28},{"x":273.4,"y":-0.34},{"x":273.6,"y":0.07},{"x":273.8,"y":0.72},{"x":274.0,"y":-0.1},{"x":274.2,"y":0.13},{"x":274.4,"y":0.18},{"x":274.6,"y":0.39},{"x":274.8,"y":-0.14},{"x":275.0,"y":0.5},{"x":275.2,"y":0.04},{"x":275.4,"y":0.23},{"x":275.5,"y":-0.12},{"x":275.7,"y":0.11},{"x":275.9,"y":0.32},{"x":276.1,"y":-0.19},{"x":276.3,"y":0.05},{"x":276.5,"y":0.6},{"x":276.7,"y":0.25},{"x":276.9,"y":-0.06},{"x":277.1,"y":0.19},{"x":277.3,"y":0.45},{"x":277.5,"y":-0.25},{"x":277.7,"y":0.12},{"x":277.9,"y":0.62},{"x":278.1,"y":0.02},{"x":278.3,"y":0.3},{"x":278.5,"y":-0.15},{"x":278.7,"y":-0.3},{"x":278.9,"y":0.17},{"x":279.1,"y":0.32},{"x":279.2,"y":0.52},{"x":279.4,"y":-0.04},{"x":279.6,"y":0.1},{"x":279.8,"y":0.26},{"x":280.0,"y":-0.1},{"x":280.2,"y":-0.3},{"x":280.4,"y":0.08},{"x":280.6,"y":0.36},{"x":280.8,"y":-0.21},{"x":281.0,"y":0.19},{"x":281.2,"y":0.42},{"x":281.4,"y":0.01},{"x":281.6,"y":-0.12},{"x":281.8,"y":0.79},{"x":282.0,"y":0.27},{"x":282.2,"y":0.05},{"x":282.4,"y":0.5},{"x":282.6,"y":-0.17},{"x":282.8,"y":0.15},{"x":283.0,"y":0.39},{"x":283.2,"y":-0.06},{"x":283.4,"y":0.21},{"x":283.6,"y":0.62},{"x":283.8,"y":0.03},{"x":284.0,"y":-0.27},{"x":284.2,"y":0.16},{"x":284.4,"y":0.34},{"x":284.6,"y":-0.05},{"x":284.8,"y":0.1},{"x":285.0,"y":-0.14},{"x":285.2,"y":0.23},{"x":285.4,"y":0.45},{"x":285.6,"y":0.0},{"x":285.8,"y":-0.08},{"x":286.0,"y":0.3},{"x":286.2,"y":0.13},{"x":286.4,"y":-0.2},{"x":286.6,"y":0.6},{"x":286.8,"y":-0.26},{"x":287.0,"y":0.07},{"x":287.2,"y":0.33},{"x":287.4,"y":-0.03},{"x":287.6,"y":0.19},{"x":287.8,"y":0.58},{"x":288.0,"y":-0.11},{"x":288.2,"y":-0.3},{"x":288.4,"y":0.11},{"x":288.6,"y":0.36},{"x":288.8,"y":0.02},{"x":289.0,"y":0.25},{"x":289.2,"y":-0.07},{"x":289.4,"y":0.44},{"x":289.6,"y":0.15},{"x":289.8,"y":0.01},{"x":289.9,"y":0.32},
      {"x":261.0,"y":0.1},{"x":262.2,"y":0.08},{"x":263.3,"y":0.12},{"x":264.3,"y":-0.01},{"x":265.5,"y":0.1},{"x":266.6,"y":0.03},{"x":267.7,"y":0.17},{"x":268.8,"y":-0.03},{"x":269.8,"y":0.05},{"x":270.9,"y":0.14},{"x":271.9,"y":-0.01},{"x":273.1,"y":0.09},{"x":274.1,"y":0.04},{"x":275.3,"y":0.15},{"x":276.4,"y":-0.01},{"x":277.4,"y":0.06},{"x":278.4,"y":0.16},{"x":279.5,"y":0.05},{"x":280.5,"y":0.2},{"x":281.5,"y":0.09},{"x":282.5,"y":0.22},{"x":283.5,"y":0.05},{"x":284.5,"y":0.13},{"x":285.7,"y":-0.02},{"x":286.7,"y":0.1},{"x":287.9,"y":0.06},{"x":289.1,"y":0.13},{"x":280.9,"y":-0.44},{"x":271.5,"y":0.5},{"x":283.9,"y":0.42}
    ]
  },
  "concat": [
    {
      "width": 429, "height": 226,
      "resolve": {"axis": {"x": "independent", "y": "independent"}},
      "layer": [
        {"data": {"name": "ptA"}, "mark": {"type": "circle", "color": "#c8c8c8", "size": 30, "opacity": 1},
         "encoding": {
           "x": {"field": "x", "type": "quantitative", "scale": {"domain": [0, 70], "nice": false, "zero": false},
                 "axis": {"orient": "bottom", "values": [0,10,20,30,40,50,60,70], "format": "d", "grid": true, "tickSize": 5, "labelPadding": 9, "title": "Ti", "titleX": 181, "titleY": 58.5, "titleAlign": "left", "titleBaseline": "alphabetic", "titleAngle": 0}},
           "y": {"field": "y", "type": "quantitative", "scale": {"domain": [-20, 30], "nice": false, "zero": false},
                 "axis": {"orient": "left", "values": [-20,-10,0,10,20,30], "format": "d", "grid": true, "tickSize": 5, "labelPadding": 7, "title": "Ti", "titleX": -73, "titleY": 188, "titleAlign": "left", "titleBaseline": "alphabetic", "titleAngle": -90}}}},
        {"data": {"name": "boxU"}, "mark": {"type": "rule", "color": "#000", "strokeWidth": 1},
         "encoding": {
           "x": {"field": "x", "type": "quantitative", "scale": {"domain": [0, 70], "nice": false, "zero": false},
                 "axis": {"orient": "bottom", "values": [0,2,4,6,8,10,12,14,16,18,20,22,24,26,28,30,32,34,36,38,40,42,44,46,48,50,52,54,56,58,60,62,64,66,68,70], "labels": false, "domain": false, "grid": false, "title": null, "tickSize": {"condition": {"test": "datum.value % 10 === 0", "value": -5}, "value": -3}}},
           "y": {"field": "lo", "type": "quantitative", "scale": {"domain": [-20, 30], "nice": false, "zero": false},
                 "axis": {"orient": "left", "values": [-20,-18,-16,-14,-12,-10,-8,-6,-4,-2,0,2,4,6,8,10,12,14,16,18,20,22,24,26,28,30], "labels": false, "domain": false, "grid": false, "title": null, "tickSize": {"condition": {"test": "datum.value % 10 === 0", "value": -5}, "value": -3}}},
           "y2": {"field": "q1"}}},
        {"data": {"name": "boxU"}, "mark": {"type": "rule", "color": "#000", "strokeWidth": 1},
         "encoding": {
           "x": {"field": "x", "type": "quantitative", "scale": {"domain": [0, 70], "nice": false, "zero": false},
                 "axis": {"orient": "bottom", "labels": false, "ticks": false, "domain": false, "grid": false, "title": "Ref", "titleFontSize": 14, "titleX": 199, "titleY": 66, "titleAlign": "left", "titleBaseline": "alphabetic", "titleAngle": 0}},
           "y": {"field": "q3", "type": "quantitative", "scale": {"domain": [-20, 30], "nice": false, "zero": false},
                 "axis": {"orient": "left", "labels": false, "ticks": false, "domain": false, "grid": false, "title": "RSD", "titleFontSize": 14, "titleX": -66, "titleY": 170, "titleAlign": "left", "titleBaseline": "alphabetic", "titleAngle": -90}},
           "y2": {"field": "hi"}}},
        {"data": {"name": "boxU"}, "mark": {"type": "bar", "orient": "vertical", "size": 5.6, "fill": "#fff", "stroke": "#000", "strokeWidth": 1.2},
         "encoding": {
           "x": {"field": "x", "type": "quantitative", "scale": {"domain": [0, 70], "nice": false, "zero": false},
                 "axis": {"orient": "bottom", "labels": false, "ticks": false, "domain": false, "grid": false, "title": "[%]", "titleX": 226.5, "titleY": 58.5, "titleAlign": "left", "titleBaseline": "alphabetic", "titleAngle": 0}},
           "y": {"field": "q1", "type": "quantitative", "scale": {"domain": [-20, 30], "nice": false, "zero": false},
                 "axis": {"orient": "left", "labels": false, "ticks": false, "domain": false, "grid": false, "title": "\u2212\u00a0Ti", "titleX": -73, "titleY": 134.6, "titleAlign": "left", "titleBaseline": "alphabetic", "titleAngle": -90}},
           "y2": {"field": "q3"}}},
        {"data": {"name": "boxU"}, "mark": {"type": "tick", "orient": "horizontal", "size": 5.6, "thickness": 1.2, "color": "#000", "opacity": 1},
         "encoding": {
           "x": {"field": "x", "type": "quantitative", "scale": {"domain": [0, 70], "nice": false, "zero": false},
                 "axis": {"orient": "top", "labels": false, "ticks": false, "domain": false, "grid": false, "title": "80 m Turbulence intensity", "titleFontSize": 23, "titleFontWeight": "bold", "titleX": 216, "titleY": -16, "titleAlign": "center", "titleBaseline": "alphabetic", "titleAngle": 0}},
           "y": {"field": "md", "type": "quantitative", "scale": {"domain": [-20, 30], "nice": false, "zero": false},
                 "axis": {"orient": "left", "labels": false, "ticks": false, "domain": false, "grid": false, "title": "Ref", "titleFontSize": 14, "titleX": -66, "titleY": 98.5, "titleAlign": "left", "titleBaseline": "alphabetic", "titleAngle": -90}}}},
        {"data": {"name": "boxU"}, "mark": {"type": "tick", "orient": "horizontal", "size": 3, "thickness": 1.2, "color": "#000", "opacity": 1},
         "encoding": {
           "x": {"field": "x", "type": "quantitative", "scale": {"domain": [0, 70], "nice": false, "zero": false},
                 "axis": {"orient": "bottom", "labels": false, "ticks": false, "domain": false, "grid": false, "title": "(a) Absolute differences versus reference data", "titleFontSize": 24, "titleFontWeight": "bold", "titleX": 190, "titleY": 100, "titleAlign": "center", "titleBaseline": "alphabetic", "titleLineHeight": 25.5, "titleAngle": 0}},
           "y": {"field": "lo", "type": "quantitative", "scale": {"domain": [-20, 30], "nice": false, "zero": false},
                 "axis": {"orient": "left", "labels": false, "ticks": false, "domain": false, "grid": false, "title": "[%]", "titleX": -73, "titleY": 70.9, "titleAlign": "left", "titleBaseline": "alphabetic", "titleAngle": -90}}}},
        {"data": {"name": "boxU"}, "mark": {"type": "tick", "orient": "horizontal", "size": 3, "thickness": 1.2, "color": "#000", "opacity": 1},
         "encoding": {
           "x": {"field": "x", "type": "quantitative", "scale": {"domain": [0, 70], "nice": false, "zero": false}, "axis": null},
           "y": {"field": "hi", "type": "quantitative", "scale": {"domain": [-20, 30], "nice": false, "zero": false}, "axis": null}}},
        {"data": {"name": "outU"}, "mark": {"type": "point", "filled": true, "color": "#000", "size": 9, "opacity": 1},
         "encoding": {
           "x": {"field": "x", "type": "quantitative", "scale": {"domain": [0, 70], "nice": false, "zero": false}, "axis": null},
           "y": {"field": "y", "type": "quantitative", "scale": {"domain": [-20, 30], "nice": false, "zero": false}, "axis": null}}}
      ]
    },
    {
      "width": 429, "height": 226,
      "resolve": {"axis": {"x": "independent", "y": "independent"}},
      "layer": [
        {"data": {"name": "ptB"}, "mark": {"type": "circle", "color": "#c8c8c8", "size": 30, "opacity": 1},
         "encoding": {
           "x": {"field": "x", "type": "quantitative", "scale": {"domain": [0, 70], "nice": false, "zero": false},
                 "axis": {"orient": "bottom", "values": [0,10,20,30,40,50,60,70], "format": "d", "grid": true, "tickSize": 5, "labelPadding": 9, "title": "Ti", "titleX": 181, "titleY": 58.5, "titleAlign": "left", "titleBaseline": "alphabetic", "titleAngle": 0}},
           "y": {"field": "y", "type": "quantitative", "scale": {"domain": [-1, 1], "nice": false, "zero": false},
                 "axis": {"orient": "left", "values": [-1,-0.5,0,0.5,1], "format": "~g", "grid": true, "tickSize": 5, "labelPadding": 7, "title": "(Ti", "titleX": -73, "titleY": 216, "titleAlign": "left", "titleBaseline": "alphabetic", "titleAngle": -90}}}},
        {"data": {"name": "boxR"}, "mark": {"type": "rule", "color": "#000", "strokeWidth": 1},
         "encoding": {
           "x": {"field": "x", "type": "quantitative", "scale": {"domain": [0, 70], "nice": false, "zero": false},
                 "axis": {"orient": "bottom", "values": [0,2,4,6,8,10,12,14,16,18,20,22,24,26,28,30,32,34,36,38,40,42,44,46,48,50,52,54,56,58,60,62,64,66,68,70], "labels": false, "domain": false, "grid": false, "title": null, "tickSize": {"condition": {"test": "datum.value % 10 === 0", "value": -5}, "value": -3}}},
           "y": {"field": "lo", "type": "quantitative", "scale": {"domain": [-1, 1], "nice": false, "zero": false},
                 "axis": {"orient": "left", "values": [-1,-0.9,-0.8,-0.7,-0.6,-0.5,-0.4,-0.3,-0.2,-0.1,0,0.1,0.2,0.3,0.4,0.5,0.6,0.7,0.8,0.9,1], "labels": false, "domain": false, "grid": false, "title": null, "tickSize": {"condition": {"test": "abs(datum.value * 2 - round(datum.value * 2)) < 0.001", "value": -5}, "value": -3}}},
           "y2": {"field": "q1"}}},
        {"data": {"name": "boxR"}, "mark": {"type": "rule", "color": "#000", "strokeWidth": 1},
         "encoding": {
           "x": {"field": "x", "type": "quantitative", "scale": {"domain": [0, 70], "nice": false, "zero": false},
                 "axis": {"orient": "bottom", "labels": false, "ticks": false, "domain": false, "grid": false, "title": "Ref", "titleFontSize": 14, "titleX": 199, "titleY": 66, "titleAlign": "left", "titleBaseline": "alphabetic", "titleAngle": 0}},
           "y": {"field": "q3", "type": "quantitative", "scale": {"domain": [-1, 1], "nice": false, "zero": false},
                 "axis": {"orient": "left", "labels": false, "ticks": false, "domain": false, "grid": false, "title": "RSD", "titleFontSize": 14, "titleX": -66, "titleY": 191, "titleAlign": "left", "titleBaseline": "alphabetic", "titleAngle": -90}},
           "y2": {"field": "hi"}}},
        {"data": {"name": "boxR"}, "mark": {"type": "bar", "orient": "vertical", "size": 5.6, "fill": "#fff", "stroke": "#000", "strokeWidth": 1.2},
         "encoding": {
           "x": {"field": "x", "type": "quantitative", "scale": {"domain": [0, 70], "nice": false, "zero": false},
                 "axis": {"orient": "bottom", "labels": false, "ticks": false, "domain": false, "grid": false, "title": "[%]", "titleX": 226.5, "titleY": 58.5, "titleAlign": "left", "titleBaseline": "alphabetic", "titleAngle": 0}},
           "y": {"field": "q1", "type": "quantitative", "scale": {"domain": [-1, 1], "nice": false, "zero": false},
                 "axis": {"orient": "left", "labels": false, "ticks": false, "domain": false, "grid": false, "title": "\u2212\u00a0Ti", "titleX": -73, "titleY": 155.5, "titleAlign": "left", "titleBaseline": "alphabetic", "titleAngle": -90}},
           "y2": {"field": "q3"}}},
        {"data": {"name": "boxR"}, "mark": {"type": "tick", "orient": "horizontal", "size": 5.6, "thickness": 1.2, "color": "#000", "opacity": 1},
         "encoding": {
           "x": {"field": "x", "type": "quantitative", "scale": {"domain": [0, 70], "nice": false, "zero": false},
                 "axis": {"orient": "top", "labels": false, "ticks": false, "domain": false, "grid": false, "title": "80 m Turbulence intensity", "titleFontSize": 23, "titleFontWeight": "bold", "titleX": 216, "titleY": -16, "titleAlign": "center", "titleBaseline": "alphabetic", "titleAngle": 0}},
           "y": {"field": "md", "type": "quantitative", "scale": {"domain": [-1, 1], "nice": false, "zero": false},
                 "axis": {"orient": "left", "labels": false, "ticks": false, "domain": false, "grid": false, "title": "Ref", "titleFontSize": 14, "titleX": -66, "titleY": 119.4, "titleAlign": "left", "titleBaseline": "alphabetic", "titleAngle": -90}}}},
        {"data": {"name": "boxR"}, "mark": {"type": "tick", "orient": "horizontal", "size": 3, "thickness": 1.2, "color": "#000", "opacity": 1},
         "encoding": {
           "x": {"field": "x", "type": "quantitative", "scale": {"domain": [0, 70], "nice": false, "zero": false},
                 "axis": {"orient": "bottom", "labels": false, "ticks": false, "domain": false, "grid": false, "title": "(b) Relative differences versus reference data", "titleFontSize": 24, "titleFontWeight": "bold", "titleX": 199, "titleY": 100, "titleAlign": "center", "titleBaseline": "alphabetic", "titleLineHeight": 25.5, "titleAngle": 0}},
           "y": {"field": "lo", "type": "quantitative", "scale": {"domain": [-1, 1], "nice": false, "zero": false},
                 "axis": {"orient": "left", "labels": false, "ticks": false, "domain": false, "grid": false, "title": ")/\u00a0Ti", "titleX": -73, "titleY": 97.1, "titleAlign": "left", "titleBaseline": "alphabetic", "titleAngle": -90}}}},
        {"data": {"name": "boxR"}, "mark": {"type": "tick", "orient": "horizontal", "size": 3, "thickness": 1.2, "color": "#000", "opacity": 1},
         "encoding": {
           "x": {"field": "x", "type": "quantitative", "scale": {"domain": [0, 70], "nice": false, "zero": false}, "axis": null},
           "y": {"field": "hi", "type": "quantitative", "scale": {"domain": [-1, 1], "nice": false, "zero": false},
                 "axis": {"orient": "left", "labels": false, "ticks": false, "domain": false, "grid": false, "title": "Ref", "titleFontSize": 14, "titleX": -66, "titleY": 60.5, "titleAlign": "left", "titleBaseline": "alphabetic", "titleAngle": -90}}}},
        {"data": {"name": "outR"}, "mark": {"type": "point", "filled": true, "color": "#000", "size": 9, "opacity": 1},
         "encoding": {
           "x": {"field": "x", "type": "quantitative", "scale": {"domain": [0, 70], "nice": false, "zero": false}, "axis": null},
           "y": {"field": "y", "type": "quantitative", "scale": {"domain": [-1, 1], "nice": false, "zero": false},
                 "axis": {"orient": "left", "labels": false, "ticks": false, "domain": false, "grid": false, "title": "[\u2013]", "titleX": -73, "titleY": 32.9, "titleAlign": "left", "titleBaseline": "alphabetic", "titleAngle": -90}}}}
      ]
    },
    {
      "width": 429, "height": 236,
      "resolve": {"axis": {"x": "independent", "y": "independent"}},
      "layer": [
        {"data": {"name": "ptC"}, "mark": {"type": "circle", "color": "#c8c8c8", "size": 30, "opacity": 1},
         "encoding": {
           "x": {"field": "x", "type": "quantitative", "scale": {"domain": [0, 40], "nice": false, "zero": false},
                 "axis": {"orient": "bottom", "values": [0,10,20,30,40], "format": "d", "grid": true, "tickSize": 5, "labelPadding": 9, "title": "U", "titleX": 161.7, "titleY": 54, "titleAlign": "left", "titleBaseline": "alphabetic", "titleAngle": 0}},
           "y": {"field": "y", "type": "quantitative", "scale": {"domain": [-40, 40], "nice": false, "zero": false},
                 "axis": {"orient": "left", "values": [-40,-20,0,20,40], "format": "d", "grid": true, "tickSize": 5, "labelPadding": 7, "title": "Ti", "titleX": -73, "titleY": 193, "titleAlign": "left", "titleBaseline": "alphabetic", "titleAngle": -90}}}},
        {"data": {"name": "boxU"}, "mark": {"type": "rule", "color": "#000", "strokeWidth": 1},
         "encoding": {
           "x": {"field": "x", "type": "quantitative", "scale": {"domain": [0, 40], "nice": false, "zero": false},
                 "axis": {"orient": "bottom", "values": [0,1,2,3,4,5,6,7,8,9,10,11,12,13,14,15,16,17,18,19,20,21,22,23,24,25,26,27,28,29,30,31,32,33,34,35,36,37,38,39,40], "labels": false, "domain": false, "grid": false, "title": null, "tickSize": {"condition": {"test": "datum.value % 10 === 0", "value": -5}, "value": -3}}},
           "y": {"field": "lo", "type": "quantitative", "scale": {"domain": [-40, 40], "nice": false, "zero": false},
                 "axis": {"orient": "left", "values": [-40,-36,-32,-28,-24,-20,-16,-12,-8,-4,0,4,8,12,16,20,24,28,32,36,40], "labels": false, "domain": false, "grid": false, "title": null, "tickSize": {"condition": {"test": "datum.value % 20 === 0", "value": -5}, "value": -3}}},
           "y2": {"field": "q1"}}},
        {"data": {"name": "boxU"}, "mark": {"type": "rule", "color": "#000", "strokeWidth": 1},
         "encoding": {
           "x": {"field": "x", "type": "quantitative", "scale": {"domain": [0, 40], "nice": false, "zero": false},
                 "axis": {"orient": "bottom", "labels": false, "ticks": false, "domain": false, "grid": false, "title": "Ref", "titleFontSize": 14, "titleX": 177.4, "titleY": 61.5, "titleAlign": "left", "titleBaseline": "alphabetic", "titleAngle": 0}},
           "y": {"field": "q3", "type": "quantitative", "scale": {"domain": [-40, 40], "nice": false, "zero": false},
                 "axis": {"orient": "left", "labels": false, "ticks": false, "domain": false, "grid": false, "title": "RSD", "titleFontSize": 14, "titleX": -66, "titleY": 175, "titleAlign": "left", "titleBaseline": "alphabetic", "titleAngle": -90}},
           "y2": {"field": "hi"}}},
        {"data": {"name": "boxU"}, "mark": {"type": "bar", "orient": "vertical", "size": 10, "fill": "#fff", "stroke": "#000", "strokeWidth": 1.2},
         "encoding": {
           "x": {"field": "x", "type": "quantitative", "scale": {"domain": [0, 40], "nice": false, "zero": false},
                 "axis": {"orient": "bottom", "labels": false, "ticks": false, "domain": false, "grid": false, "title": "[m s", "titleX": 204, "titleY": 54, "titleAlign": "left", "titleBaseline": "alphabetic", "titleAngle": 0}},
           "y": {"field": "q1", "type": "quantitative", "scale": {"domain": [-40, 40], "nice": false, "zero": false},
                 "axis": {"orient": "left", "labels": false, "ticks": false, "domain": false, "grid": false, "title": "\u2212\u00a0Ti", "titleX": -73, "titleY": 139.6, "titleAlign": "left", "titleBaseline": "alphabetic", "titleAngle": -90}},
           "y2": {"field": "q3"}}},
        {"data": {"name": "boxU"}, "mark": {"type": "tick", "orient": "horizontal", "size": 10, "thickness": 1.2, "color": "#000", "opacity": 1},
         "encoding": {
           "x": {"field": "x", "type": "quantitative", "scale": {"domain": [0, 40], "nice": false, "zero": false},
                 "axis": {"orient": "top", "labels": false, "ticks": false, "domain": false, "grid": false, "title": "80 m Turbulence intensity", "titleFontSize": 23, "titleFontWeight": "bold", "titleX": 216, "titleY": -10.5, "titleAlign": "center", "titleBaseline": "alphabetic", "titleAngle": 0}},
           "y": {"field": "md", "type": "quantitative", "scale": {"domain": [-40, 40], "nice": false, "zero": false},
                 "axis": {"orient": "left", "labels": false, "ticks": false, "domain": false, "grid": false, "title": "Ref", "titleFontSize": 14, "titleX": -66, "titleY": 103.5, "titleAlign": "left", "titleBaseline": "alphabetic", "titleAngle": -90}}}},
        {"data": {"name": "boxU"}, "mark": {"type": "tick", "orient": "horizontal", "size": 5, "thickness": 1.2, "color": "#000", "opacity": 1},
         "encoding": {
           "x": {"field": "x", "type": "quantitative", "scale": {"domain": [0, 40], "nice": false, "zero": false},
                 "axis": {"orient": "bottom", "labels": false, "ticks": false, "domain": false, "grid": false, "title": ["(c) Absolute differences", "versus reference wind speed"], "titleFontSize": 24, "titleFontWeight": "bold", "titleX": 196, "titleY": 96, "titleAlign": "center", "titleBaseline": "alphabetic", "titleLineHeight": 25.5, "titleAngle": 0}},
           "y": {"field": "lo", "type": "quantitative", "scale": {"domain": [-40, 40], "nice": false, "zero": false},
                 "axis": {"orient": "left", "labels": false, "ticks": false, "domain": false, "grid": false, "title": "[%]", "titleX": -73, "titleY": 75.9, "titleAlign": "left", "titleBaseline": "alphabetic", "titleAngle": -90}}}},
        {"data": {"name": "boxU"}, "mark": {"type": "tick", "orient": "horizontal", "size": 5, "thickness": 1.2, "color": "#000", "opacity": 1},
         "encoding": {
           "x": {"field": "x", "type": "quantitative", "scale": {"domain": [0, 40], "nice": false, "zero": false},
                 "axis": {"orient": "bottom", "labels": false, "ticks": false, "domain": false, "grid": false, "title": "\u22121", "titleFontSize": 14, "titleX": 244.5, "titleY": 43.5, "titleAlign": "left", "titleBaseline": "alphabetic", "titleAngle": 0}},
           "y": {"field": "hi", "type": "quantitative", "scale": {"domain": [-40, 40], "nice": false, "zero": false}, "axis": null}}},
        {"data": {"name": "outU"}, "mark": {"type": "point", "filled": true, "color": "#000", "size": 9, "opacity": 1},
         "encoding": {
           "x": {"field": "x", "type": "quantitative", "scale": {"domain": [0, 40], "nice": false, "zero": false},
                 "axis": {"orient": "bottom", "labels": false, "ticks": false, "domain": false, "grid": false, "title": "]", "titleX": 261, "titleY": 54, "titleAlign": "left", "titleBaseline": "alphabetic", "titleAngle": 0}},
           "y": {"field": "y", "type": "quantitative", "scale": {"domain": [-40, 40], "nice": false, "zero": false}, "axis": null}}}
      ]
    },
    {
      "width": 429, "height": 236,
      "resolve": {"axis": {"x": "independent", "y": "independent"}},
      "layer": [
        {"data": {"name": "ptD"}, "mark": {"type": "circle", "color": "#c8c8c8", "size": 30, "opacity": 1},
         "encoding": {
           "x": {"field": "x", "type": "quantitative", "scale": {"domain": [0, 40], "nice": false, "zero": false},
                 "axis": {"orient": "bottom", "values": [0,10,20,30,40], "format": "d", "grid": true, "tickSize": 5, "labelPadding": 9, "title": "U", "titleX": 161.7, "titleY": 54, "titleAlign": "left", "titleBaseline": "alphabetic", "titleAngle": 0}},
           "y": {"field": "y", "type": "quantitative", "scale": {"domain": [-1, 1], "nice": false, "zero": false},
                 "axis": {"orient": "left", "values": [-1,-0.5,0,0.5,1], "format": "~g", "grid": true, "tickSize": 5, "labelPadding": 7, "title": "(Ti", "titleX": -73, "titleY": 221, "titleAlign": "left", "titleBaseline": "alphabetic", "titleAngle": -90}}}},
        {"data": {"name": "boxR"}, "mark": {"type": "rule", "color": "#000", "strokeWidth": 1},
         "encoding": {
           "x": {"field": "x", "type": "quantitative", "scale": {"domain": [0, 40], "nice": false, "zero": false},
                 "axis": {"orient": "bottom", "values": [0,1,2,3,4,5,6,7,8,9,10,11,12,13,14,15,16,17,18,19,20,21,22,23,24,25,26,27,28,29,30,31,32,33,34,35,36,37,38,39,40], "labels": false, "domain": false, "grid": false, "title": null, "tickSize": {"condition": {"test": "datum.value % 10 === 0", "value": -5}, "value": -3}}},
           "y": {"field": "lo", "type": "quantitative", "scale": {"domain": [-1, 1], "nice": false, "zero": false},
                 "axis": {"orient": "left", "values": [-1,-0.9,-0.8,-0.7,-0.6,-0.5,-0.4,-0.3,-0.2,-0.1,0,0.1,0.2,0.3,0.4,0.5,0.6,0.7,0.8,0.9,1], "labels": false, "domain": false, "grid": false, "title": null, "tickSize": {"condition": {"test": "abs(datum.value * 2 - round(datum.value * 2)) < 0.001", "value": -5}, "value": -3}}},
           "y2": {"field": "q1"}}},
        {"data": {"name": "boxR"}, "mark": {"type": "rule", "color": "#000", "strokeWidth": 1},
         "encoding": {
           "x": {"field": "x", "type": "quantitative", "scale": {"domain": [0, 40], "nice": false, "zero": false},
                 "axis": {"orient": "bottom", "labels": false, "ticks": false, "domain": false, "grid": false, "title": "Ref", "titleFontSize": 14, "titleX": 177.4, "titleY": 61.5, "titleAlign": "left", "titleBaseline": "alphabetic", "titleAngle": 0}},
           "y": {"field": "q3", "type": "quantitative", "scale": {"domain": [-1, 1], "nice": false, "zero": false},
                 "axis": {"orient": "left", "labels": false, "ticks": false, "domain": false, "grid": false, "title": "RSD", "titleFontSize": 14, "titleX": -66, "titleY": 196, "titleAlign": "left", "titleBaseline": "alphabetic", "titleAngle": -90}},
           "y2": {"field": "hi"}}},
        {"data": {"name": "boxR"}, "mark": {"type": "bar", "orient": "vertical", "size": 10, "fill": "#fff", "stroke": "#000", "strokeWidth": 1.2},
         "encoding": {
           "x": {"field": "x", "type": "quantitative", "scale": {"domain": [0, 40], "nice": false, "zero": false},
                 "axis": {"orient": "bottom", "labels": false, "ticks": false, "domain": false, "grid": false, "title": "[m s", "titleX": 204, "titleY": 54, "titleAlign": "left", "titleBaseline": "alphabetic", "titleAngle": 0}},
           "y": {"field": "q1", "type": "quantitative", "scale": {"domain": [-1, 1], "nice": false, "zero": false},
                 "axis": {"orient": "left", "labels": false, "ticks": false, "domain": false, "grid": false, "title": "\u2212\u00a0Ti", "titleX": -73, "titleY": 160.5, "titleAlign": "left", "titleBaseline": "alphabetic", "titleAngle": -90}},
           "y2": {"field": "q3"}}},
        {"data": {"name": "boxR"}, "mark": {"type": "tick", "orient": "horizontal", "size": 10, "thickness": 1.2, "color": "#000", "opacity": 1},
         "encoding": {
           "x": {"field": "x", "type": "quantitative", "scale": {"domain": [0, 40], "nice": false, "zero": false},
                 "axis": {"orient": "top", "labels": false, "ticks": false, "domain": false, "grid": false, "title": "80 m Turbulence intensity", "titleFontSize": 23, "titleFontWeight": "bold", "titleX": 216, "titleY": -10.5, "titleAlign": "center", "titleBaseline": "alphabetic", "titleAngle": 0}},
           "y": {"field": "md", "type": "quantitative", "scale": {"domain": [-1, 1], "nice": false, "zero": false},
                 "axis": {"orient": "left", "labels": false, "ticks": false, "domain": false, "grid": false, "title": "Ref", "titleFontSize": 14, "titleX": -66, "titleY": 124.4, "titleAlign": "left", "titleBaseline": "alphabetic", "titleAngle": -90}}}},
        {"data": {"name": "boxR"}, "mark": {"type": "tick", "orient": "horizontal", "size": 5, "thickness": 1.2, "color": "#000", "opacity": 1},
         "encoding": {
           "x": {"field": "x", "type": "quantitative", "scale": {"domain": [0, 40], "nice": false, "zero": false},
                 "axis": {"orient": "bottom", "labels": false, "ticks": false, "domain": false, "grid": false, "title": ["(d) Relative differences", "versus reference wind speed"], "titleFontSize": 24, "titleFontWeight": "bold", "titleX": 192, "titleY": 96, "titleAlign": "center", "titleBaseline": "alphabetic", "titleLineHeight": 25.5, "titleAngle": 0}},
           "y": {"field": "lo", "type": "quantitative", "scale": {"domain": [-1, 1], "nice": false, "zero": false},
                 "axis": {"orient": "left", "labels": false, "ticks": false, "domain": false, "grid": false, "title": ")/\u00a0Ti", "titleX": -73, "titleY": 102.1, "titleAlign": "left", "titleBaseline": "alphabetic", "titleAngle": -90}}}},
        {"data": {"name": "boxR"}, "mark": {"type": "tick", "orient": "horizontal", "size": 5, "thickness": 1.2, "color": "#000", "opacity": 1},
         "encoding": {
           "x": {"field": "x", "type": "quantitative", "scale": {"domain": [0, 40], "nice": false, "zero": false},
                 "axis": {"orient": "bottom", "labels": false, "ticks": false, "domain": false, "grid": false, "title": "\u22121", "titleFontSize": 14, "titleX": 244.5, "titleY": 43.5, "titleAlign": "left", "titleBaseline": "alphabetic", "titleAngle": 0}},
           "y": {"field": "hi", "type": "quantitative", "scale": {"domain": [-1, 1], "nice": false, "zero": false},
                 "axis": {"orient": "left", "labels": false, "ticks": false, "domain": false, "grid": false, "title": "Ref", "titleFontSize": 14, "titleX": -66, "titleY": 65.5, "titleAlign": "left", "titleBaseline": "alphabetic", "titleAngle": -90}}}},
        {"data": {"name": "outR"}, "mark": {"type": "point", "filled": true, "color": "#000", "size": 9, "opacity": 1},
         "encoding": {
           "x": {"field": "x", "type": "quantitative", "scale": {"domain": [0, 40], "nice": false, "zero": false},
                 "axis": {"orient": "bottom", "labels": false, "ticks": false, "domain": false, "grid": false, "title": "]", "titleX": 261, "titleY": 54, "titleAlign": "left", "titleBaseline": "alphabetic", "titleAngle": 0}},
           "y": {"field": "y", "type": "quantitative", "scale": {"domain": [-1, 1], "nice": false, "zero": false},
                 "axis": {"orient": "left", "labels": false, "ticks": false, "domain": false, "grid": false, "title": "[\u2013]", "titleX": -73, "titleY": 37.9, "titleAlign": "left", "titleBaseline": "alphabetic", "titleAngle": -90}}}}
      ]
    },
    {
      "width": 429, "height": 226,
      "resolve": {"axis": {"x": "independent", "y": "independent"}},
      "layer": [
        {"data": {"name": "ptE"}, "mark": {"type": "circle", "color": "#c8c8c8", "size": 30, "opacity": 1},
         "encoding": {
           "x": {"field": "x", "type": "quantitative", "scale": {"domain": [260, 290], "nice": false, "zero": false},
                 "axis": {"orient": "bottom", "values": [260,265,270,275,280,285,290], "format": "d", "grid": true, "tickSize": 5, "labelPadding": 9, "title": "WD", "titleX": 174.7, "titleY": 58.5, "titleAlign": "left", "titleBaseline": "alphabetic", "titleAngle": 0}},
           "y": {"field": "y", "type": "quantitative", "scale": {"domain": [-40, 40], "nice": false, "zero": false},
                 "axis": {"orient": "left", "values": [-40,-20,0,20,40], "format": "d", "grid": true, "tickSize": 5, "labelPadding": 7, "title": "Ti", "titleX": -73, "titleY": 188, "titleAlign": "left", "titleBaseline": "alphabetic", "titleAngle": -90}}}},
        {"data": {"name": "boxWa"}, "mark": {"type": "rule", "color": "#000", "strokeWidth": 1},
         "encoding": {
           "x": {"field": "x", "type": "quantitative", "scale": {"domain": [260, 290], "nice": false, "zero": false},
                 "axis": {"orient": "bottom", "values": [260,261,262,263,264,265,266,267,268,269,270,271,272,273,274,275,276,277,278,279,280,281,282,283,284,285,286,287,288,289,290], "labels": false, "domain": false, "grid": false, "title": null, "tickSize": {"condition": {"test": "datum.value % 5 === 0", "value": -5}, "value": -3}}},
           "y": {"field": "lo", "type": "quantitative", "scale": {"domain": [-40, 40], "nice": false, "zero": false},
                 "axis": {"orient": "left", "values": [-40,-36,-32,-28,-24,-20,-16,-12,-8,-4,0,4,8,12,16,20,24,28,32,36,40], "labels": false, "domain": false, "grid": false, "title": null, "tickSize": {"condition": {"test": "datum.value % 20 === 0", "value": -5}, "value": -3}}},
           "y2": {"field": "q1"}}},
        {"data": {"name": "boxWa"}, "mark": {"type": "rule", "color": "#000", "strokeWidth": 1},
         "encoding": {
           "x": {"field": "x", "type": "quantitative", "scale": {"domain": [260, 290], "nice": false, "zero": false},
                 "axis": {"orient": "bottom", "labels": false, "ticks": false, "domain": false, "grid": false, "title": "Ref", "titleFontSize": 14, "titleX": 210.2, "titleY": 66, "titleAlign": "left", "titleBaseline": "alphabetic", "titleAngle": 0}},
           "y": {"field": "q3", "type": "quantitative", "scale": {"domain": [-40, 40], "nice": false, "zero": false},
                 "axis": {"orient": "left", "labels": false, "ticks": false, "domain": false, "grid": false, "title": "RSD", "titleFontSize": 14, "titleX": -66, "titleY": 170, "titleAlign": "left", "titleBaseline": "alphabetic", "titleAngle": -90}},
           "y2": {"field": "hi"}}},
        {"data": {"name": "boxWa"}, "mark": {"type": "bar", "orient": "vertical", "size": 71.5, "fill": "#fff", "stroke": "#000", "strokeWidth": 1.2},
         "encoding": {
           "x": {"field": "x", "type": "quantitative", "scale": {"domain": [260, 290], "nice": false, "zero": false},
                 "axis": {"orient": "bottom", "labels": false, "ticks": false, "domain": false, "grid": false, "title": "[\u00b0]", "titleX": 239, "titleY": 58.5, "titleAlign": "left", "titleBaseline": "alphabetic", "titleAngle": 0}},
           "y": {"field": "q1", "type": "quantitative", "scale": {"domain": [-40, 40], "nice": false, "zero": false},
                 "axis": {"orient": "left", "labels": false, "ticks": false, "domain": false, "grid": false, "title": "\u2212\u00a0Ti", "titleX": -73, "titleY": 134.6, "titleAlign": "left", "titleBaseline": "alphabetic", "titleAngle": -90}},
           "y2": {"field": "q3"}}},
        {"data": {"name": "boxWa"}, "mark": {"type": "tick", "orient": "horizontal", "size": 71.5, "thickness": 1.2, "color": "#000", "opacity": 1},
         "encoding": {
           "x": {"field": "x", "type": "quantitative", "scale": {"domain": [260, 290], "nice": false, "zero": false},
                 "axis": {"orient": "top", "labels": false, "ticks": false, "domain": false, "grid": false, "title": "80 m Turbulence intensity", "titleFontSize": 23, "titleFontWeight": "bold", "titleX": 216, "titleY": -16, "titleAlign": "center", "titleBaseline": "alphabetic", "titleAngle": 0}},
           "y": {"field": "md", "type": "quantitative", "scale": {"domain": [-40, 40], "nice": false, "zero": false},
                 "axis": {"orient": "left", "labels": false, "ticks": false, "domain": false, "grid": false, "title": "Ref", "titleFontSize": 14, "titleX": -66, "titleY": 98.5, "titleAlign": "left", "titleBaseline": "alphabetic", "titleAngle": -90}}}},
        {"data": {"name": "boxWa"}, "mark": {"type": "tick", "orient": "horizontal", "size": 34, "thickness": 1.2, "color": "#000", "opacity": 1},
         "encoding": {
           "x": {"field": "x", "type": "quantitative", "scale": {"domain": [260, 290], "nice": false, "zero": false},
                 "axis": {"orient": "bottom", "labels": false, "ticks": false, "domain": false, "grid": false, "title": ["(e) Absolute differences", "versus reference direction"], "titleFontSize": 24, "titleFontWeight": "bold", "titleX": 196, "titleY": 98, "titleAlign": "center", "titleBaseline": "alphabetic", "titleLineHeight": 25.5, "titleAngle": 0}},
           "y": {"field": "lo", "type": "quantitative", "scale": {"domain": [-40, 40], "nice": false, "zero": false},
                 "axis": {"orient": "left", "labels": false, "ticks": false, "domain": false, "grid": false, "title": "[%]", "titleX": -73, "titleY": 70.9, "titleAlign": "left", "titleBaseline": "alphabetic", "titleAngle": -90}}}},
        {"data": {"name": "boxWa"}, "mark": {"type": "tick", "orient": "horizontal", "size": 34, "thickness": 1.2, "color": "#000", "opacity": 1},
         "encoding": {
           "x": {"field": "x", "type": "quantitative", "scale": {"domain": [260, 290], "nice": false, "zero": false}, "axis": null},
           "y": {"field": "hi", "type": "quantitative", "scale": {"domain": [-40, 40], "nice": false, "zero": false}, "axis": null}}},
        {"data": {"name": "outWa"}, "mark": {"type": "point", "filled": true, "color": "#000", "size": 9, "opacity": 1},
         "encoding": {
           "x": {"field": "x", "type": "quantitative", "scale": {"domain": [260, 290], "nice": false, "zero": false}, "axis": null},
           "y": {"field": "y", "type": "quantitative", "scale": {"domain": [-40, 40], "nice": false, "zero": false}, "axis": null}}}
      ]
    },
    {
      "width": 429, "height": 226,
      "resolve": {"axis": {"x": "independent", "y": "independent"}},
      "layer": [
        {"data": {"name": "ptF"}, "mark": {"type": "circle", "color": "#c8c8c8", "size": 30, "opacity": 1},
         "encoding": {
           "x": {"field": "x", "type": "quantitative", "scale": {"domain": [260, 290], "nice": false, "zero": false},
                 "axis": {"orient": "bottom", "values": [260,265,270,275,280,285,290], "format": "d", "grid": true, "tickSize": 5, "labelPadding": 9, "title": "WD", "titleX": 174.7, "titleY": 58.5, "titleAlign": "left", "titleBaseline": "alphabetic", "titleAngle": 0}},
           "y": {"field": "y", "type": "quantitative", "scale": {"domain": [-1, 1], "nice": false, "zero": false},
                 "axis": {"orient": "left", "values": [-1,-0.5,0,0.5,1], "format": "~g", "grid": true, "tickSize": 5, "labelPadding": 7, "title": "(Ti", "titleX": -73, "titleY": 216, "titleAlign": "left", "titleBaseline": "alphabetic", "titleAngle": -90}}}},
        {"data": {"name": "boxWr"}, "mark": {"type": "rule", "color": "#000", "strokeWidth": 1},
         "encoding": {
           "x": {"field": "x", "type": "quantitative", "scale": {"domain": [260, 290], "nice": false, "zero": false},
                 "axis": {"orient": "bottom", "values": [260,261,262,263,264,265,266,267,268,269,270,271,272,273,274,275,276,277,278,279,280,281,282,283,284,285,286,287,288,289,290], "labels": false, "domain": false, "grid": false, "title": null, "tickSize": {"condition": {"test": "datum.value % 5 === 0", "value": -5}, "value": -3}}},
           "y": {"field": "lo", "type": "quantitative", "scale": {"domain": [-1, 1], "nice": false, "zero": false},
                 "axis": {"orient": "left", "values": [-1,-0.9,-0.8,-0.7,-0.6,-0.5,-0.4,-0.3,-0.2,-0.1,0,0.1,0.2,0.3,0.4,0.5,0.6,0.7,0.8,0.9,1], "labels": false, "domain": false, "grid": false, "title": null, "tickSize": {"condition": {"test": "abs(datum.value * 2 - round(datum.value * 2)) < 0.001", "value": -5}, "value": -3}}},
           "y2": {"field": "q1"}}},
        {"data": {"name": "boxWr"}, "mark": {"type": "rule", "color": "#000", "strokeWidth": 1},
         "encoding": {
           "x": {"field": "x", "type": "quantitative", "scale": {"domain": [260, 290], "nice": false, "zero": false},
                 "axis": {"orient": "bottom", "labels": false, "ticks": false, "domain": false, "grid": false, "title": "Ref", "titleFontSize": 14, "titleX": 210.2, "titleY": 66, "titleAlign": "left", "titleBaseline": "alphabetic", "titleAngle": 0}},
           "y": {"field": "q3", "type": "quantitative", "scale": {"domain": [-1, 1], "nice": false, "zero": false},
                 "axis": {"orient": "left", "labels": false, "ticks": false, "domain": false, "grid": false, "title": "RSD", "titleFontSize": 14, "titleX": -66, "titleY": 191, "titleAlign": "left", "titleBaseline": "alphabetic", "titleAngle": -90}},
           "y2": {"field": "hi"}}},
        {"data": {"name": "boxWr"}, "mark": {"type": "bar", "orient": "vertical", "size": 71.5, "fill": "#fff", "stroke": "#000", "strokeWidth": 1.2},
         "encoding": {
           "x": {"field": "x", "type": "quantitative", "scale": {"domain": [260, 290], "nice": false, "zero": false},
                 "axis": {"orient": "bottom", "labels": false, "ticks": false, "domain": false, "grid": false, "title": "[\u00b0]", "titleX": 239, "titleY": 58.5, "titleAlign": "left", "titleBaseline": "alphabetic", "titleAngle": 0}},
           "y": {"field": "q1", "type": "quantitative", "scale": {"domain": [-1, 1], "nice": false, "zero": false},
                 "axis": {"orient": "left", "labels": false, "ticks": false, "domain": false, "grid": false, "title": "\u2212\u00a0Ti", "titleX": -73, "titleY": 155.5, "titleAlign": "left", "titleBaseline": "alphabetic", "titleAngle": -90}},
           "y2": {"field": "q3"}}},
        {"data": {"name": "boxWr"}, "mark": {"type": "tick", "orient": "horizontal", "size": 71.5, "thickness": 1.2, "color": "#000", "opacity": 1},
         "encoding": {
           "x": {"field": "x", "type": "quantitative", "scale": {"domain": [260, 290], "nice": false, "zero": false},
                 "axis": {"orient": "top", "labels": false, "ticks": false, "domain": false, "grid": false, "title": "80 m Turbulence intensity", "titleFontSize": 23, "titleFontWeight": "bold", "titleX": 216, "titleY": -16, "titleAlign": "center", "titleBaseline": "alphabetic", "titleAngle": 0}},
           "y": {"field": "md", "type": "quantitative", "scale": {"domain": [-1, 1], "nice": false, "zero": false},
                 "axis": {"orient": "left", "labels": false, "ticks": false, "domain": false, "grid": false, "title": "Ref", "titleFontSize": 14, "titleX": -66, "titleY": 119.4, "titleAlign": "left", "titleBaseline": "alphabetic", "titleAngle": -90}}}},
        {"data": {"name": "boxWr"}, "mark": {"type": "tick", "orient": "horizontal", "size": 34, "thickness": 1.2, "color": "#000", "opacity": 1},
         "encoding": {
           "x": {"field": "x", "type": "quantitative", "scale": {"domain": [260, 290], "nice": false, "zero": false},
                 "axis": {"orient": "bottom", "labels": false, "ticks": false, "domain": false, "grid": false, "title": "(f) Relative differences versus reference direction", "titleFontSize": 23.3, "titleFontWeight": "bold", "titleX": 195, "titleY": 98, "titleAlign": "center", "titleBaseline": "alphabetic", "titleLineHeight": 25.5, "titleAngle": 0}},
           "y": {"field": "lo", "type": "quantitative", "scale": {"domain": [-1, 1], "nice": false, "zero": false},
                 "axis": {"orient": "left", "labels": false, "ticks": false, "domain": false, "grid": false, "title": ")/\u00a0Ti", "titleX": -73, "titleY": 97.1, "titleAlign": "left", "titleBaseline": "alphabetic", "titleAngle": -90}}}},
        {"data": {"name": "boxWr"}, "mark": {"type": "tick", "orient": "horizontal", "size": 34, "thickness": 1.2, "color": "#000", "opacity": 1},
         "encoding": {
           "x": {"field": "x", "type": "quantitative", "scale": {"domain": [260, 290], "nice": false, "zero": false}, "axis": null},
           "y": {"field": "hi", "type": "quantitative", "scale": {"domain": [-1, 1], "nice": false, "zero": false},
                 "axis": {"orient": "left", "labels": false, "ticks": false, "domain": false, "grid": false, "title": "Ref", "titleFontSize": 14, "titleX": -66, "titleY": 60.5, "titleAlign": "left", "titleBaseline": "alphabetic", "titleAngle": -90}}}},
        {"data": {"name": "outWr"}, "mark": {"type": "point", "filled": true, "color": "#000", "size": 9, "opacity": 1},
         "encoding": {
           "x": {"field": "x", "type": "quantitative", "scale": {"domain": [260, 290], "nice": false, "zero": false}, "axis": null},
           "y": {"field": "y", "type": "quantitative", "scale": {"domain": [-1, 1], "nice": false, "zero": false},
                 "axis": {"orient": "left", "labels": false, "ticks": false, "domain": false, "grid": false, "title": "[\u2013]", "titleX": -73, "titleY": 32.9, "titleAlign": "left", "titleBaseline": "alphabetic", "titleAngle": -90}}}}
      ]
    }
  ],
  "config": {
    "font": "Liberation Sans",
    "view": {"stroke": null},
    "axis": {
      "labelFont": "Liberation Sans", "labelFontSize": 19, "labelColor": "#000",
      "titleFont": "Liberation Sans", "titleFontSize": 21, "titleFontWeight": "normal", "titleColor": "#000",
      "domainColor": "#000", "domainWidth": 1, "tickColor": "#000", "tickWidth": 1,
      "gridColor": "#000", "gridDash": [8, 5], "gridWidth": 1, "gridOpacity": 0.85,
      "labelFlush": false, "labelOverlap": false, "labelBound": false, "minExtent": 0, "titlePadding": 0
    }
  }
}
